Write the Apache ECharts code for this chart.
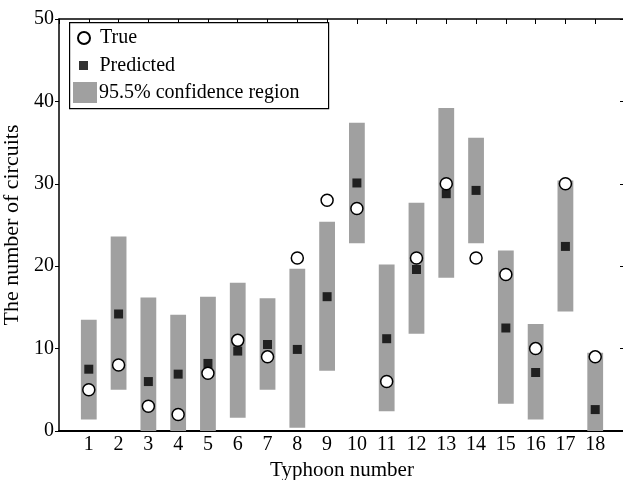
<!DOCTYPE html>
<html>
<head>
<meta charset="utf-8">
<script src="https://cdn.jsdelivr.net/npm/echarts@6/dist/echarts.min.js"></script>
<style>html,body{margin:0;padding:0;background:#fff;}#c{width:623px;height:480px;}</style>
</head>
<body>
<div id="c"></div>
<script>
const typhoons = [1,2,3,4,5,6,7,8,9,10,11,12,13,14,15,16,17,18];
const trueVals = [5,8,3,2,7,11,9,21,28,27,6,21,30,21,19,10,30,9];
const predicted = [7.5,14.2,6.0,6.9,8.2,9.7,10.5,9.9,16.3,30.1,11.2,19.6,28.8,29.2,12.5,7.1,22.4,2.6];
const ciLow  = [1.4,5.0,0,0,0,1.6,5.0,0.4,7.3,22.8,2.4,11.8,18.6,22.8,3.3,1.4,14.5,0];
const ciHigh = [13.5,23.6,16.2,14.1,16.3,18.0,16.1,19.7,25.4,37.4,20.2,27.7,39.2,35.6,21.9,13.0,30.4,9.5];
const yTicks = [0,10,20,30,40,50];

const FONT = "'Liberation Serif','Times New Roman',serif";
const chart = echarts.init(document.getElementById('c'), null, {renderer:'canvas'});

const ciData = typhoons.map((t,i)=>[t, ciLow[i], ciHigh[i]]);
const trueData = typhoons.map((t,i)=>[t, trueVals[i]]);
const predData = typhoons.map((t,i)=>[t, predicted[i]]);

const option = {
  backgroundColor:'#fff',
  animation:false,
  textStyle:{fontFamily:FONT, color:'#000'},
  grid:{left:59, top:19, width:566, height:412, containLabel:false, outerBoundsMode:'none'},
  xAxis:[{
    type:'value', min:0, max:typhoons.length+1, interval:1, position:'bottom',
    name:'Typhoon number', nameLocation:'middle', nameGap:16,
    nameTextStyle:{fontFamily:FONT, fontSize:21, color:'#000'},
    axisLine:{show:true, onZero:false, lineStyle:{color:'#000', width:2}},
    axisTick:{show:false},
    splitLine:{show:false},
    axisLabel:{fontFamily:FONT, fontSize:20, color:'#000', margin:4,
      formatter:(v)=> typhoons.indexOf(v)>=0 ? String(v) : ''}
  },{
    type:'value', min:0, max:typhoons.length+1, interval:1, position:'top',
    axisLine:{show:true, onZero:false, lineStyle:{color:'#000', width:1.5}},
    axisTick:{show:true, inside:true, length:5, lineStyle:{color:'#000'}},
    axisLabel:{show:false}, splitLine:{show:false}
  }],
  yAxis:[{
    type:'value', min:0, max:50, interval:10, position:'left',
    name:'The number of circuits', nameLocation:'middle', nameGap:30,
    nameTextStyle:{fontFamily:FONT, fontSize:22, color:'#000'},
    axisLine:{show:true, onZero:false, lineStyle:{color:'#000', width:1.5}},
    axisTick:{show:true, inside:false, length:4, lineStyle:{color:'#000'}},
    splitLine:{show:false},
    axisLabel:{fontFamily:FONT, fontSize:20, color:'#000', margin:5}
  },{
    type:'value', min:0, max:50, interval:10, position:'right',
    axisLine:{show:true, onZero:false, lineStyle:{color:'#000'}},
    axisTick:{show:true, inside:true, length:5, lineStyle:{color:'#000'}},
    axisLabel:{show:false}, splitLine:{show:false}
  }],
  legend:[
    {data:[{name:'True', icon:'circle'}], left:77, top:27, padding:0, orient:'vertical',
     itemWidth:22, itemHeight:12, selectedMode:false,
     textStyle:{fontFamily:FONT, fontSize:20, color:'#000', lineHeight:22}},
    {data:[{name:'Predicted', icon:'path://M0,0L1,0L1,1L0,1Z'}], left:79, top:54.5, padding:0, orient:'vertical',
     itemWidth:22, itemHeight:9, selectedMode:false,
     textStyle:{fontFamily:FONT, fontSize:20, color:'#000', lineHeight:22}},
    {data:[{name:'95.5% confidence region', icon:'rect'}], left:73, top:81.5, padding:0, orient:'vertical',
     itemWidth:24, itemHeight:21, selectedMode:false,
     textStyle:{fontFamily:FONT, fontSize:20, color:'#000', lineHeight:22, padding:[0,0,0,-3]}}
  ],
  graphic:[{
    type:'rect', left:69, top:22, z:1,
    shape:{width:259, height:86},
    style:{fill:'#fff', stroke:'#000', lineWidth:1.2}
  }],
  series:[
    {
      name:'95.5% confidence region', type:'custom', xAxisIndex:0, yAxisIndex:0,
      itemStyle:{color:'#a0a0a0'},
      data:ciData,
      renderItem:(params, api)=>{
        const x = api.value(0), lo = api.value(1), hi = api.value(2);
        const pTop = api.coord([x, hi]);
        const pBot = api.coord([x, lo]);
        const w = api.size([0.53, 0])[0];
        return {type:'rect', shape:{x:pTop[0]-w/2, y:pTop[1], width:w, height:pBot[1]-pTop[1]},
                style:{fill:'#a0a0a0'}};
      },
      z:2
    },
    {
      name:'Predicted', type:'scatter', xAxisIndex:0, yAxisIndex:0,
      symbol:'rect', symbolSize:9,
      itemStyle:{color:'#000'},
      data:predData, z:3
    },
    {
      name:'True', type:'scatter', xAxisIndex:0, yAxisIndex:0,
      symbol:'circle', symbolSize:12,
      itemStyle:{color:'#fff', borderColor:'#000', borderWidth:1.5, opacity:1},
      data:trueData, z:4
    }
  ]
};
chart.setOption(option);
</script>
</body>
</html>
